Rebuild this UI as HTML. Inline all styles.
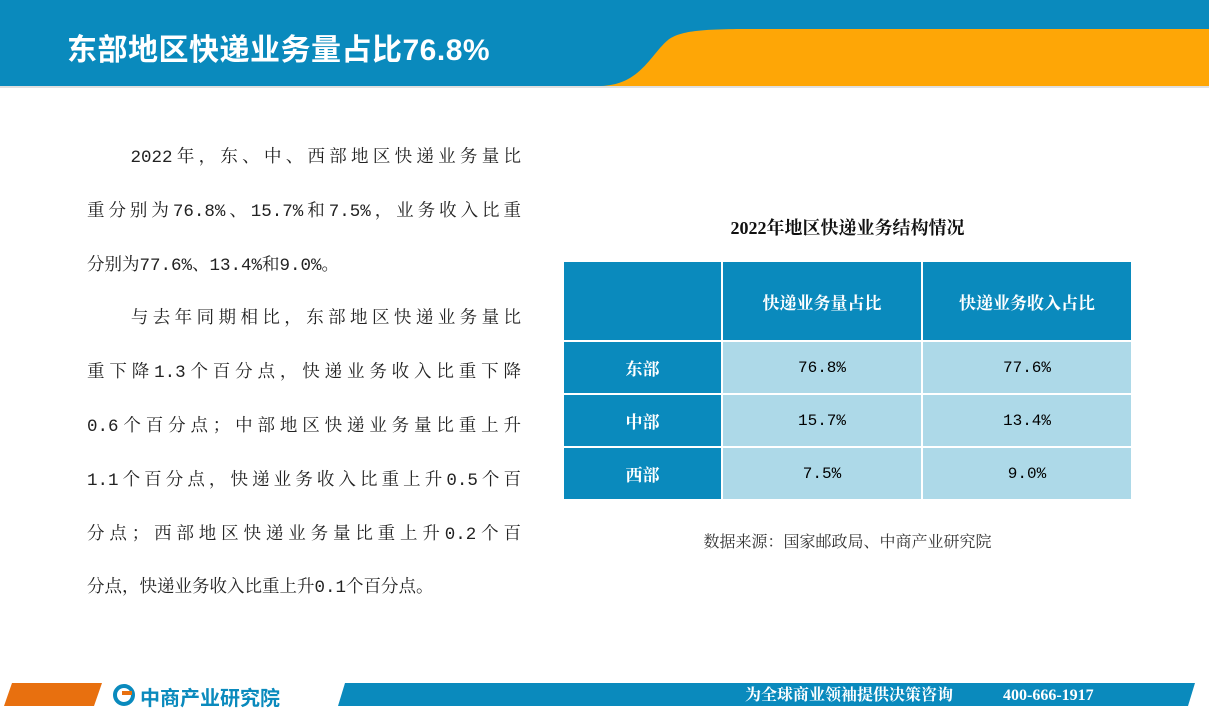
<!DOCTYPE html>
<html><head><meta charset="utf-8"><style>
body{margin:0;width:1209px;height:718px;overflow:hidden;background:#fff;position:relative;font-family:"Liberation Serif","Noto Serif CJK SC",serif}
.abs{position:absolute}
.txt{position:absolute;left:87px;top:140px;width:434px;font-size:17.5px;color:#222;font-family:"Liberation Mono","Noto Serif CJK SC",serif}
.ln{height:53.8px;line-height:36px;text-align:justify;text-align-last:justify;white-space:nowrap}
.ln.l{text-align-last:left}
table{position:absolute;left:562px;top:260px;border-collapse:collapse;width:571px}
td{border:2px solid #fff;text-align:center;font-size:16px;font-family:"Liberation Mono","Noto Serif CJK SC",serif}
td.h{font-family:"Liberation Serif","Noto Serif CJK SC",serif;font-weight:bold;font-size:17px;color:#fff;background:#0a8abd}
.ft{position:absolute;top:686px;line-height:20px;color:#fff;font-size:16px;font-weight:bold}
</style></head><body>
<svg class="abs" style="left:0;top:0" width="1209" height="88">
<rect width="1209" height="86" fill="#0a8abd"/>
<path d="M598,86 C640,86 650,55 668,40 C680,31 700,29 750,29 L1209,29 L1209,86 Z" fill="#fea606"/>
<rect y="86" width="1209" height="2" fill="#e0e0e0"/>
</svg>
<div class="abs" style="left:67px;top:25px;color:#fff;font-family:'Liberation Sans','Noto Sans CJK SC',sans-serif;font-size:30px;font-weight:bold;letter-spacing:0.5px">东部地区快递业务量占比76.8%</div>

<div class="txt">
<div class="ln">　　2022年，东、中、西部地区快递业务量比</div>
<div class="ln">重分别为76.8%、15.7%和7.5%，业务收入比重</div>
<div class="ln l">分别为77.6%、13.4%和9.0%。</div>
<div class="ln">　　与去年同期相比，东部地区快递业务量比</div>
<div class="ln">重下降1.3个百分点，快递业务收入比重下降</div>
<div class="ln">0.6个百分点；中部地区快递业务量比重上升</div>
<div class="ln">1.1个百分点，快递业务收入比重上升0.5个百</div>
<div class="ln">分点；西部地区快递业务量比重上升0.2个百</div>
<div class="ln l">分点，快递业务收入比重上升0.1个百分点。</div>
</div>

<div class="abs" style="left:562px;width:571px;top:214px;text-align:center;font-size:18px;font-weight:bold;color:#111">2022年地区快递业务结构情况</div>
<table>
<tr style="height:80px"><td class="h" style="width:155px"></td><td class="h" style="width:196px">快递业务量占比</td><td class="h">快递业务收入占比</td></tr>
<tr style="height:53px"><td class="h">东部</td><td style="background:#add9e8">76.8%</td><td style="background:#add9e8">77.6%</td></tr>
<tr style="height:53px"><td class="h">中部</td><td style="background:#add9e8">15.7%</td><td style="background:#add9e8">13.4%</td></tr>
<tr style="height:53px"><td class="h">西部</td><td style="background:#add9e8">7.5%</td><td style="background:#add9e8">9.0%</td></tr>
</table>
<div class="abs" style="left:562px;width:571px;top:529px;text-align:center;font-size:16px;color:#333">数据来源：国家邮政局、中商产业研究院</div>

<svg class="abs" style="left:0;top:680px" width="1209" height="30">
<polygon points="12,3 102,3 94,26 4,26" fill="#e8700f"/>
<polygon points="345,3 1195,3 1188,26 338,26" fill="#0a8abd"/>
<circle cx="124" cy="15" r="9" fill="none" stroke="#0a8abd" stroke-width="4"/>
<rect x="122" y="11" width="10" height="4" fill="#e8700f"/>
</svg>
<div class="abs" style="left:140px;top:682px;font-family:'Liberation Sans','Noto Sans CJK SC',sans-serif;font-size:20px;font-weight:bold;color:#0a8abd">中商产业研究院</div>
<div class="ft" style="left:745px">为全球商业领袖提供决策咨询</div>
<div class="ft" style="left:1003px">400-666-1917</div>
</body></html>
